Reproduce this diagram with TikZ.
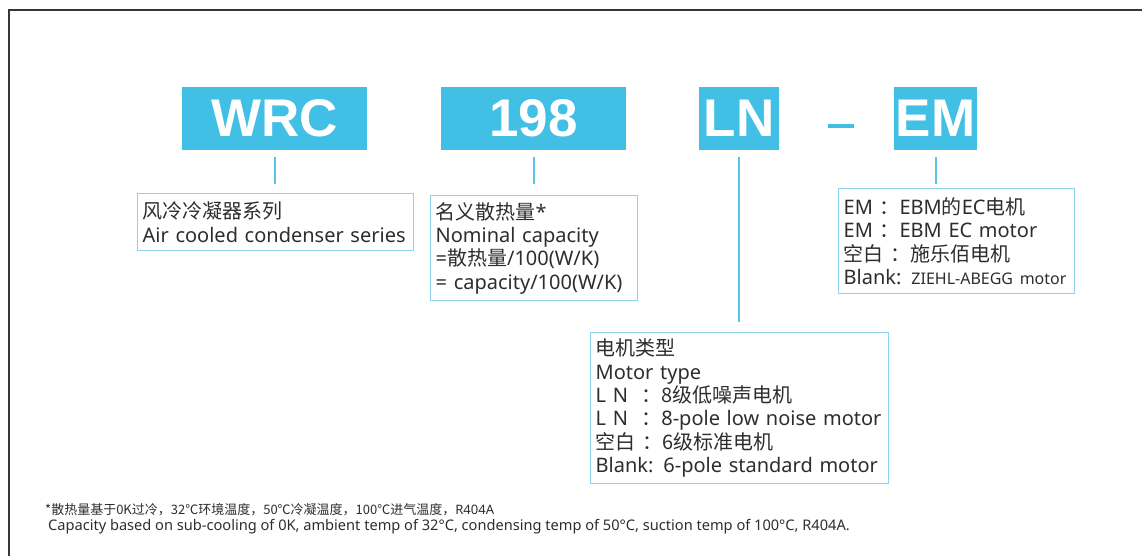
\documentclass[tikz,border=0pt]{standalone}
\usepackage{fontspec}
\setmainfont{Noto Sans}
\newfontfamily\cjk{Noto Sans CJK SC}
\newfontfamily\heavy{Liberation Sans}
\newcommand{\C}[1]{{\cjk #1}}
\definecolor{cyanbox}{RGB}{65,191,229}
\definecolor{cyanline}{RGB}{90,196,232}
\definecolor{cyanborder}{RGB}{140,212,238}
\definecolor{txt}{RGB}{45,45,45}
\definecolor{frame}{RGB}{55,55,55}
\begin{document}
\begin{tikzpicture}[x=1pt,y=-1pt,
  codebox/.style={fill=cyanbox,text=white,inner sep=0pt,anchor=north west,
    font=\heavy\bfseries\fontsize{53}{53}\selectfont},
  descbox/.style={draw=cyanborder,line width=1.3pt,inner xsep=5pt,inner ysep=0pt,anchor=north west,
    align=left,text=txt,font=\fontsize{20}{23.3}\selectfont},
  conn/.style={draw=cyanline,line width=2pt},
]
\useasboundingbox (0,0) rectangle (1142,555);
\draw[frame,line width=2.2pt] (9,560) -- (9,10) -- (1150,10);
% code boxes
\node[codebox,minimum width=185pt,minimum height=63pt] (wrc) at (182,87) {WRC};
\node[codebox,minimum width=185pt,minimum height=63pt] (n198) at (441,87) {198};
\node[codebox,minimum width=80pt,minimum height=63pt] (ln) at (699,87) {LN};
\node[codebox,minimum width=83pt,minimum height=63pt] (em) at (894,87) {EM};
\node[fill=cyanbox,inner sep=0pt,minimum width=26pt,minimum height=3.5pt] (dash) at (841,126) {};
% description boxes
\node[descbox,minimum width=276pt,minimum height=57pt,text width=266pt] (t1) at (137,193)
  {\C{风冷冷凝器系列}\\Air cooled condenser series};
\node[descbox,minimum width=207pt,minimum height=105pt,text width=197pt] (t2) at (430,195)
  {\C{名义散热量}*\\Nominal capacity\\=\C{散热量}/100(W/K)\\= capacity/100(W/K)};
\node[descbox,minimum width=298pt,minimum height=151pt,text width=288pt] (t3) at (590,332)
  {\C{电机类型}\\Motor type\\L\ N\ \ \C{：8级低噪声电机}\\L\ N\ \ \C{：}8-pole low noise motor\\\C{空白\ ：6级标准电机}\\Blank: 6-pole standard motor};
\node[descbox,minimum width=236pt,minimum height=105pt,text width=226pt] (t4) at (838,188)
  {EM\ \C{：}EBM\C{的}EC\C{电机}\\EM\ \C{：}EBM EC motor\\\C{空白\ ：施乐佰电机}\\Blank: {\fontsize{16}{23}\selectfont ZIEHL-ABEGG motor}};
% connectors
\draw[conn] ([yshift=-7pt]wrc.south) -- ([yshift=9pt]wrc.south |- t1.north);
\draw[conn] ([yshift=-7pt]n198.south) -- ([yshift=11pt]n198.south |- t2.north);
\draw[conn] ([yshift=-7pt]ln.south) -- ([yshift=10pt]ln.south |- t3.north);
\draw[conn] ([yshift=-7pt]em.south) -- ([yshift=4pt]em.south |- t4.north);
% footnote
\node[anchor=west,inner sep=0pt,text=txt,font=\fontsize{13}{16}\selectfont] (f1) at (45,510)
  {\C{*散热量基于0K过冷，32℃环境温度，50℃冷凝温度，100℃进气温度，}R404A};
\node[anchor=west,inner sep=0pt,text=txt,font=\fontsize{14.6}{16}\selectfont] (f2) at (48,527)
  {Capacity based on sub-cooling of 0K, ambient temp of 32°C, condensing temp of 50°C, suction temp of 100°C, R404A.};
\end{tikzpicture}
\end{document}
